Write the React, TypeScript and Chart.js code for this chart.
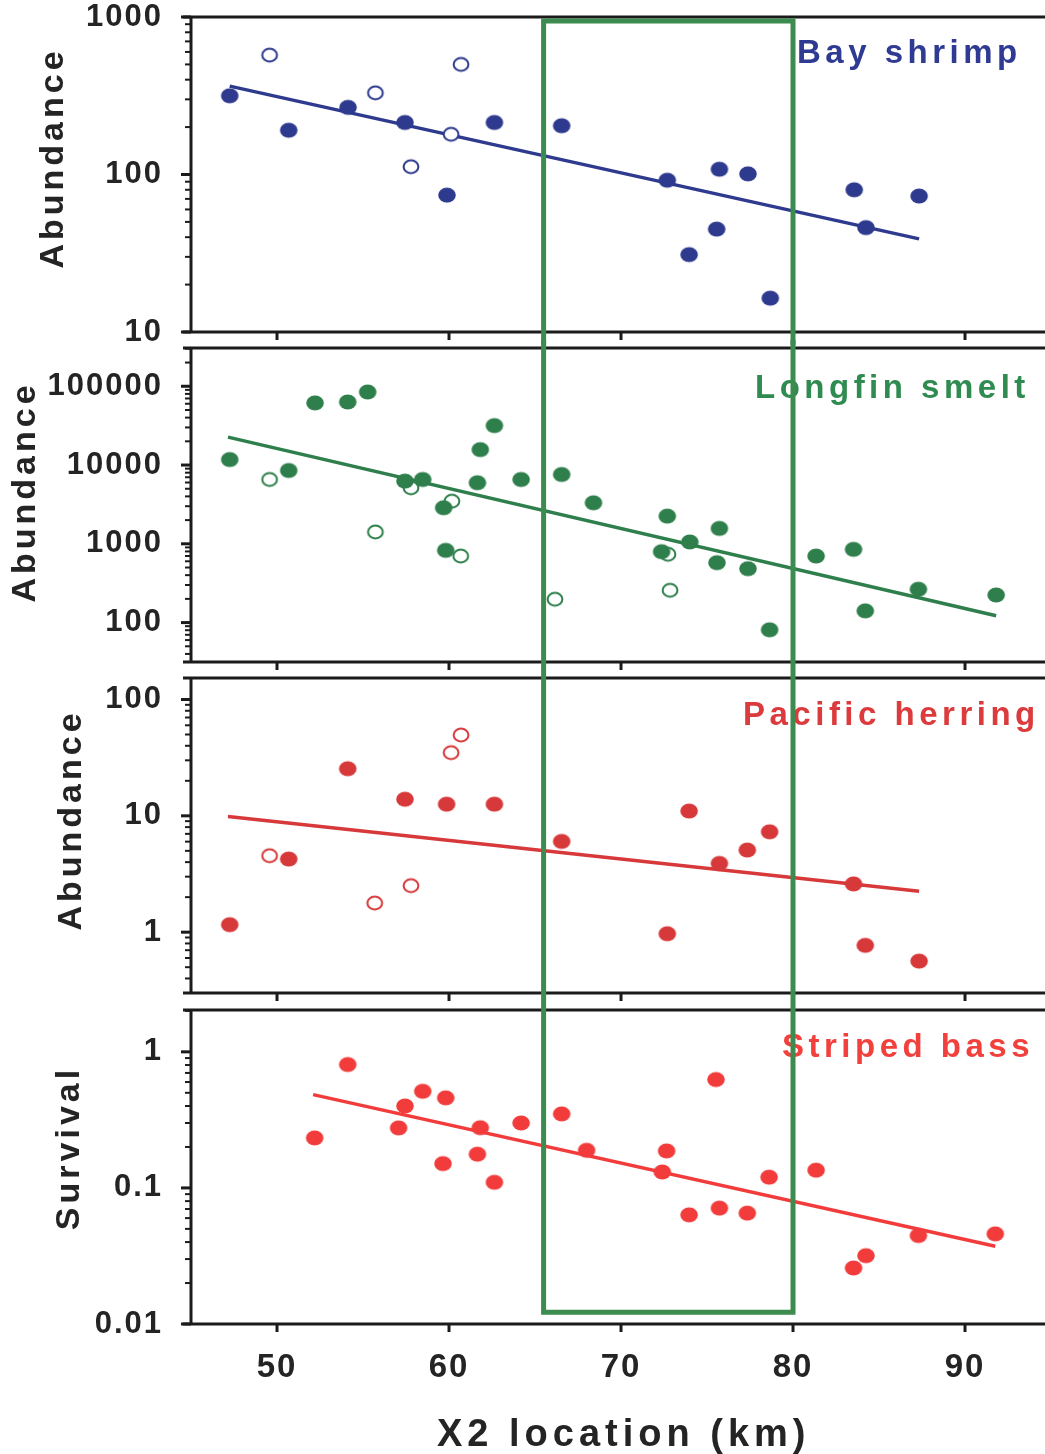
import React, { useEffect, useRef } from 'react';
import { Chart, registerables } from 'chart.js';

Chart.register(...registerables);

// ---------------- Data ----------------
const xTickValues = [50, 60, 70, 80, 90];
const xRange = [45, 94.65];
const windowX = [65.5, 80];            // green box edges (km)
const windowTopValue = 944;            // on the Bay shrimp axis
const windowBottomValue = 0.0122;      // on the Striped bass axis

// Bay shrimp
const shrimpTicks = [10, 100, 1000];
const shrimpFilledX = [47.25, 50.68, 54.13, 57.44, 59.88, 62.64, 66.55, 72.69, 73.96, 75.56, 75.72, 77.38, 78.68, 83.56, 84.24, 87.33];
const shrimpFilledY = [316, 191, 267, 214, 74, 214, 204, 92, 31, 45, 108, 101, 16.4, 80, 46, 73];
const shrimpOpenX = [49.57, 55.72, 57.79, 60.12, 60.7];
const shrimpOpenY = [573, 330, 112, 180, 500];
const shrimpFitX = [47.25, 87.33];
const shrimpFitY = [364, 39];

// Longfin smelt
const smeltTicks = [100, 1000, 10000, 100000];
const smeltFilledX = [47.25, 50.68, 52.21, 54.11, 55.27, 57.44, 58.47, 59.69, 59.81, 61.65, 61.82, 62.64, 64.19, 66.55, 68.4, 72.36, 72.69, 74.0, 75.58, 75.72, 77.38, 78.64, 81.34, 83.52, 84.2, 87.29, 91.81];
const smeltFilledY = [11750, 8530, 61500, 63200, 84700, 6250, 6560, 2870, 826, 5960, 15700, 31700, 6560, 7590, 3320, 795, 2250, 1055, 577, 1570, 484, 81, 700, 851, 141, 265, 224];
const smeltOpenX = [49.57, 55.72, 57.79, 60.17, 60.68, 66.16, 72.73, 72.85];
const smeltOpenY = [6560, 1413, 5140, 3480, 700, 198, 736, 257];
const smeltFitX = [47.15, 91.81];
const smeltFitY = [22600, 122];

// Pacific herring
const herringTicks = [1, 10, 100];
const herringFilledX = [47.25, 50.68, 54.11, 57.44, 59.86, 62.64, 66.55, 72.69, 73.96, 75.72, 77.34, 78.64, 83.52, 84.2, 87.33];
const herringFilledY = [1.16, 4.25, 25.4, 13.9, 12.6, 12.6, 6.03, 0.97, 11.0, 3.9, 5.08, 7.29, 2.6, 0.77, 0.564];
const herringOpenX = [49.57, 55.68, 57.79, 60.12, 60.7];
const herringOpenY = [4.54, 1.78, 2.51, 34.9, 49.5];
const herringFitX = [47.15, 87.33];
const herringFitY = [9.87, 2.25];

// Striped bass
const bassTicks = [0.01, 0.1, 1];
const bassFilledX = [52.19, 54.11, 57.07, 57.44, 58.47, 59.81, 59.65, 61.65, 61.82, 62.64, 64.19, 66.55, 68.0, 72.4, 72.65, 73.96, 75.52, 75.72, 77.34, 78.61, 81.34, 83.52, 84.24, 87.29, 91.76];
const bassFilledY = [0.233, 0.807, 0.276, 0.40, 0.513, 0.459, 0.151, 0.177, 0.277, 0.110, 0.30, 0.35, 0.189, 0.131, 0.187, 0.0634, 0.626, 0.0711, 0.0653, 0.120, 0.135, 0.0258, 0.0318, 0.0447, 0.046];
const bassOpenX: number[] = [];
const bassOpenY: number[] = [];
const bassFitX = [52.1, 91.76];
const bassFitY = [0.485, 0.0373];

// ---------------- Styles ----------------
const FONT = '"Liberation Sans", Arial, Helvetica, sans-serif';
const INK = '#242424';
const AXIS = '#1b1b1b';
const BOX_GREEN = '#3b8c4e';

const NAVY = '#2d3a8e';
const GREEN = '#2e7f4b';
const HERRING = '#d7383a';
const BASS = '#f23c3c';

interface PanelCfg {
  top: number; height: number; padTop: number; padBottom: number; xHeight: number;
  yMin: number; yMax: number; majors: number[];
  filledX: number[]; filledY: number[]; openX: number[]; openY: number[];
  fitX: number[]; fitY: number[];
  color: string; labelColor: string; label: string; labelX: number; labelBase: number;
  yTitle: string; titleX: number; titleY: number;
  showX: boolean; boxEdge: 'top' | 'bottom' | null;
}

const zip = (xs: number[], ys: number[]) => xs.map((x, i) => ({ x, y: ys[i] }));
const isMajor = (v: number, majors: number[]) => majors.some((m) => Math.abs(v - m) / m < 1e-6);

function allTicks(p: PanelCfg): number[] {
  const decades = [p.majors[0] / 10, ...p.majors];
  const out: number[] = [];
  for (const d of decades) {
    for (let m = 1; m <= 9; m++) {
      const v = parseFloat((d * m).toPrecision(6));
      if (v >= p.yMin * 0.9999 && v <= p.yMax * 1.0001 && !out.some((o) => Math.abs(o - v) / v < 1e-6)) out.push(v);
    }
  }
  return out.sort((a, b) => a - b);
}

function makeDot(color: string, filled: boolean): HTMLCanvasElement {
  const w = 20, h = 18;
  const c = document.createElement('canvas');
  c.width = w; c.height = h;
  const g = c.getContext('2d')!;
  g.beginPath();
  if (filled) {
    g.ellipse(w / 2, h / 2, 8.8, 7.4, 0, 0, Math.PI * 2);
    g.fillStyle = color; g.fill();
  } else {
    g.ellipse(w / 2, h / 2, 7.4, 6.5, 0, 0, Math.PI * 2);
    g.fillStyle = '#ffffff'; g.fill();
    g.lineWidth = 2; g.strokeStyle = color; g.stroke();
  }
  return c;
}

function makePlugin(p: PanelCfg) {
  return {
    id: 'panelDecor',
    beforeDraw(chart: any) {
      chart.ctx.letterSpacing = '2px';
    },
    afterDraw(chart: any) {
      const ctx = chart.ctx as CanvasRenderingContext2D & { letterSpacing: string };
      const { left, top, bottom } = chart.chartArea;
      const W = chart.width, H = chart.height;
      const xs = chart.scales.x, ys = chart.scales.y;
      ctx.save();
      ctx.letterSpacing = '0px';
      ctx.strokeStyle = AXIS;
      ctx.lineCap = 'butt';
      ctx.lineWidth = 3;
      ctx.beginPath();
      ctx.moveTo(left - 8, top); ctx.lineTo(W, top);
      ctx.moveTo(left - 8, bottom); ctx.lineTo(W, bottom);
      ctx.moveTo(left, top - 1.5); ctx.lineTo(left, bottom + 1.5);
      ctx.stroke();
      for (const v of allTicks(p)) {
        const py = ys.getPixelForValue(v);
        const major = isMajor(v, p.majors);
        ctx.lineWidth = major ? 3 : 2;
        ctx.beginPath();
        ctx.moveTo(left - (major ? 10 : 6), py); ctx.lineTo(left, py);
        ctx.stroke();
      }
      ctx.lineWidth = 3;
      for (const v of xTickValues) {
        const px = xs.getPixelForValue(v);
        ctx.beginPath(); ctx.moveTo(px, bottom); ctx.lineTo(px, bottom + 8); ctx.stroke();
      }
      // y title
      ctx.fillStyle = INK;
      ctx.font = `bold 34px ${FONT}`;
      ctx.letterSpacing = '4px';
      ctx.textAlign = 'center';
      ctx.textBaseline = 'middle';
      ctx.save();
      ctx.translate(p.titleX, p.titleY - p.top);
      ctx.rotate(-Math.PI / 2);
      ctx.fillText(p.yTitle, 0, 0);
      ctx.restore();
      // x title
      if (p.showX) {
        ctx.font = `bold 38px ${FONT}`;
        ctx.letterSpacing = '5px';
        ctx.textAlign = 'left';
        ctx.textBaseline = 'alphabetic';
        ctx.fillText('X2 location (km)', 437, 1446 - p.top);
      }
      // species label
      ctx.fillStyle = p.labelColor;
      ctx.font = `bold 33px ${FONT}`;
      ctx.letterSpacing = '4.5px';
      ctx.textAlign = 'left';
      ctx.textBaseline = 'alphabetic';
      ctx.fillText(p.label, p.labelX, p.labelBase - p.top);
      // green window
      ctx.letterSpacing = '0px';
      ctx.strokeStyle = BOX_GREEN;
      ctx.lineWidth = 5;
      ctx.lineJoin = 'miter';
      const x1 = xs.getPixelForValue(windowX[0]);
      const x2 = xs.getPixelForValue(windowX[1]);
      ctx.beginPath();
      if (p.boxEdge === 'top') {
        const yb = ys.getPixelForValue(windowTopValue);
        ctx.moveTo(x1, H); ctx.lineTo(x1, yb); ctx.lineTo(x2, yb); ctx.lineTo(x2, H);
      } else if (p.boxEdge === 'bottom') {
        const yb = ys.getPixelForValue(windowBottomValue);
        ctx.moveTo(x1, 0); ctx.lineTo(x1, yb); ctx.lineTo(x2, yb); ctx.lineTo(x2, 0);
      } else {
        ctx.moveTo(x1, 0); ctx.lineTo(x1, H);
        ctx.moveTo(x2, 0); ctx.lineTo(x2, H);
      }
      ctx.stroke();
      ctx.restore();
    },
  };
}

const panels: PanelCfg[] = [
  {
    top: 0, height: 345, padTop: 17, padBottom: 13, xHeight: 0,
    yMin: 10, yMax: 1000, majors: shrimpTicks,
    filledX: shrimpFilledX, filledY: shrimpFilledY, openX: shrimpOpenX, openY: shrimpOpenY,
    fitX: shrimpFitX, fitY: shrimpFitY,
    color: NAVY, labelColor: '#2f3b93', label: 'Bay shrimp', labelX: 797, labelBase: 63,
    yTitle: 'Abundance', titleX: 54, titleY: 158, showX: false, boxEdge: 'top',
  },
  {
    top: 340, height: 330, padTop: 8, padBottom: 8, xHeight: 0,
    yMin: 31.6, yMax: 306000, majors: smeltTicks,
    filledX: smeltFilledX, filledY: smeltFilledY, openX: smeltOpenX, openY: smeltOpenY,
    fitX: smeltFitX, fitY: smeltFitY,
    color: GREEN, labelColor: '#2f8b50', label: 'Longfin smelt', labelX: 755, labelBase: 398,
    yTitle: 'Abundance', titleX: 26, titleY: 492, showX: false, boxEdge: null,
  },
  {
    top: 670, height: 331, padTop: 8, padBottom: 8, xHeight: 0,
    yMin: 0.306, yMax: 153, majors: herringTicks,
    filledX: herringFilledX, filledY: herringFilledY, openX: herringOpenX, openY: herringOpenY,
    fitX: herringFitX, fitY: herringFitY,
    color: HERRING, labelColor: '#db3b3d', label: 'Pacific herring', labelX: 743, labelBase: 725,
    yTitle: 'Abundance', titleX: 72, titleY: 820, showX: false, boxEdge: null,
  },
  {
    top: 1001, height: 453, padTop: 9, padBottom: 0, xHeight: 130,
    yMin: 0.01, yMax: 2.03, majors: bassTicks,
    filledX: bassFilledX, filledY: bassFilledY, openX: bassOpenX, openY: bassOpenY,
    fitX: bassFitX, fitY: bassFitY,
    color: BASS, labelColor: '#f2403d', label: 'Striped bass', labelX: 782, labelBase: 1057,
    yTitle: 'Survival', titleX: 70, titleY: 1148, showX: true, boxEdge: 'bottom',
  },
];

export default function App() {
  const refs = useRef<(HTMLCanvasElement | null)[]>([]);

  useEffect(() => {
    const charts: Chart[] = [];
    panels.forEach((p, i) => {
      const canvas = refs.current[i];
      if (!canvas) return;
      const filledImg = makeDot(p.color, true);
      const openImg = makeDot(p.color, false);
      const ticks = allTicks(p);
      const tickFont = { family: FONT, size: 31, weight: 'bold' as const, lineHeight: 1 };
      const chart = new Chart(canvas, {
        type: 'scatter',
        data: {
          datasets: [
            {
              label: 'filled', data: zip(p.filledX, p.filledY), pointStyle: filledImg as any,
              pointRadius: 8, backgroundColor: p.color, borderColor: p.color, showLine: false, order: 1,
            },
            {
              label: 'open', data: zip(p.openX, p.openY), pointStyle: openImg as any,
              pointRadius: 8, backgroundColor: '#fff', borderColor: p.color, showLine: false, order: 1,
            },
            {
              label: 'fit', data: zip(p.fitX, p.fitY), showLine: true, borderColor: p.color,
              backgroundColor: p.color, borderWidth: 3.5, pointRadius: 0, order: 2, tension: 0,
            } as any,
          ],
        },
        options: {
          animation: false,
          responsive: false,
          maintainAspectRatio: false,
          devicePixelRatio: 1,
          events: [],
          layout: { autoPadding: false, padding: { top: p.padTop, bottom: p.padBottom, left: 0, right: 0 } },
          plugins: { legend: { display: false }, tooltip: { enabled: false }, title: { display: false } },
          scales: {
            x: {
              type: 'linear', position: 'bottom', min: xRange[0], max: xRange[1],
              display: p.showX,
              grid: { display: false, drawTicks: false },
              border: { display: false },
              ticks: {
                autoSkip: false, maxRotation: 0, minRotation: 0, padding: 27, color: INK,
                font: { family: FONT, size: 33, weight: 'bold', lineHeight: 1 },
                callback: (v: any) => String(v),
              },
              afterBuildTicks: (s: any) => { s.ticks = xTickValues.map((v) => ({ value: v })); },
              afterFit: (s: any) => {
                if (p.xHeight) s.height = p.xHeight;
                s.paddingLeft = 0; s.paddingRight = 0;
              },
            },
            y: {
              type: 'logarithmic', position: 'left', min: p.yMin, max: p.yMax,
              grid: { display: false, drawTicks: false },
              border: { display: false },
              ticks: {
                autoSkip: false, padding: 28, color: INK, font: tickFont,
                callback: (v: any) => (isMajor(Number(v), p.majors) ? String(Number(v)) : ''),
              },
              afterBuildTicks: (s: any) => { s.ticks = ticks.map((v) => ({ value: v })); },
              afterFit: (s: any) => { s.width = 191; s.paddingTop = 0; s.paddingBottom = 0; },
            },
          },
        },
        plugins: [makePlugin(p)],
      });
      charts.push(chart);
    });
    return () => charts.forEach((c) => c.destroy());
  }, []);

  return (
    <div style={{ position: 'absolute', left: 0, top: 0, width: 1045, height: 1454, background: '#ffffff', overflow: 'hidden' }}>
      {panels.map((p, i) => (
        <canvas
          key={i}
          ref={(el) => { refs.current[i] = el; }}
          width={1045}
          height={p.height}
          style={{ position: 'absolute', left: 0, top: p.top, width: 1045, height: p.height }}
        />
      ))}
    </div>
  );
}
